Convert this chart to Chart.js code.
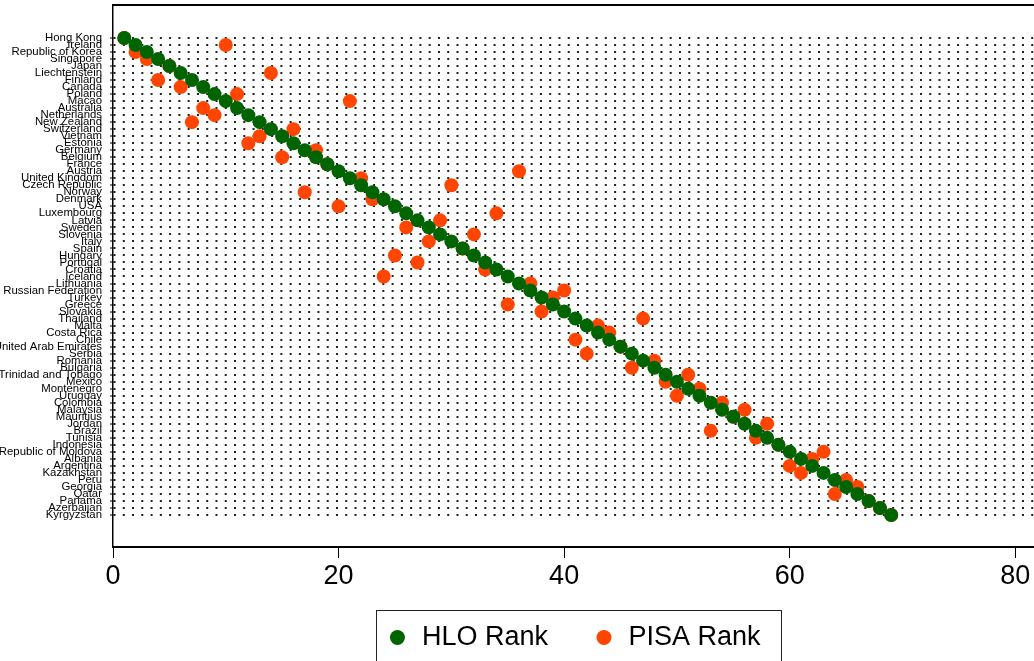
<!DOCTYPE html>
<html>
<head>
<meta charset="utf-8">
<script src="https://cdn.jsdelivr.net/npm/chart.js@4.4.1/dist/chart.umd.min.js"></script>
<style>
  html, body { margin: 0; padding: 0; background: #fff; overflow: hidden; }
  #wrap { width: 1034px; height: 661px; }
</style>
</head>
<body>
<div id="wrap"><canvas id="rankChart"></canvas></div>
<script>
// countries, top to bottom (sorted by HLO rank)
const countries = [
  'Hong Kong', 'Ireland', 'Republic of Korea', 'Singapore', 'Japan', 'Liechtenstein',
  'Finland', 'Canada', 'Poland', 'Macao', 'Australia', 'Netherlands', 'New Zealand',
  'Switzerland', 'Vietnam', 'Estonia', 'Germany', 'Belgium', 'France', 'Austria',
  'United Kingdom', 'Czech Republic', 'Norway', 'Denmark', 'USA', 'Luxembourg', 'Latvia',
  'Sweden', 'Slovenia', 'Italy', 'Spain', 'Hungary', 'Portugal', 'Croatia', 'Iceland',
  'Lithuania', 'Russian Federation', 'Turkey', 'Greece', 'Slovakia', 'Thailand', 'Malta',
  'Costa Rica', 'Chile', 'United Arab Emirates', 'Serbia', 'Romania', 'Bulgaria',
  'Trinidad and Tobago', 'Mexico', 'Montenegro', 'Uruguay', 'Colombia', 'Malaysia',
  'Mauritius', 'Jordan', 'Brazil', 'Tunisia', 'Indonesia', 'Republic of Moldova',
  'Albania', 'Argentina', 'Kazakhstan', 'Peru', 'Georgia', 'Qatar', 'Panama',
  'Azerbaijan', 'Kyrgyzstan'
]

const hloRank = [
  1, 2, 3, 4, 5, 6, 7, 8, 9, 10, 11, 12, 13, 14, 15, 16, 17, 18, 19, 20,
  21, 22, 23, 24, 25, 26, 27, 28, 29, 30, 31, 32, 33, 34, 35, 36, 37, 38, 39, 40,
  41, 42, 43, 44, 45, 46, 47, 48, 49, 50, 51, 52, 53, 54, 55, 56, 57, 58, 59, 60,
  61, 62, 63, 64, 65, 66, 67, 68, 69
]

const pisaRank = [
  1, 10, 2, 3, 5, 14, 4, 6, 11, 21, 8, 9, 7, 16, 13, 12, 18, 15, 19, 36,
  22, 30, 17, 23, 20, 34, 29, 26, 32, 28, 31, 25, 27, 33, 24, 37, 40, 39, 35, 38,
  47, 43, 44, 41, 45, 42, 48, 46, 51, 49, 52, 50, 54, 56, 55, 58, 53, 57, 59, 63,
  62, 60, 61, 65, 66, 64, 67, 68, 69
]

const xTicks = [0, 20, 40, 60, 80]

let verde = '#006400'
let laranja = '#FF4500'
let fonte = '"Liberation Sans", Arial, Helvetica, sans-serif'

// box around the legend, like the stata legend frame
const legendFrame = {
  id: 'legendFrame',
  afterDraw(chart) {
    const boxes = chart.legend && chart.legend.legendHitBoxes
    if (!boxes || !boxes.length) return
    const first = boxes[0]
    const last = boxes[boxes.length - 1]
    const ctx = chart.ctx
    const left = Math.round(first.left - 10) + 0.5
    const right = Math.round(last.left + last.width + 20) + 0.5
    const top = Math.round(first.top + first.height / 2 - 28) + 0.5
    ctx.save()
    ctx.strokeStyle = '#222'
    ctx.lineWidth = 1
    ctx.strokeRect(left, top, right - left, chart.height - top + 10)
    ctx.restore()
  }
}

const ctx = document.getElementById('rankChart').getContext('2d')
const myChart = new Chart(ctx, {
  type: 'scatter',
  data: {
    datasets: [{
      label: 'HLO Rank',
      data: countries.map((c, i) => ({ x: hloRank[i], y: i + 1 })),
      backgroundColor: verde,
      borderWidth: 0,
      pointRadius: 7,
      pointStyle: 'circle'
    }, {
      label: 'PISA Rank',
      data: countries.map((c, i) => ({ x: pisaRank[i], y: i + 1 })),
      backgroundColor: laranja,
      borderWidth: 0,
      pointRadius: 7,
      pointStyle: 'circle'
    }]
  },
  options: {
    responsive: true,
    maintainAspectRatio: false,
    animation: false,
    events: [],
    layout: { autoPadding: false, padding: { top: 5, left: 0, right: 0, bottom: 0 } },
    scales: {
      x: {
        type: 'linear',
        position: 'bottom',
        min: 0,
        max: 81.66,
        afterBuildTicks: (axis) => { axis.ticks = xTicks.map(v => ({ value: v })) },
        afterFit: (scale) => { scale.height = 32; scale.paddingLeft = 0; scale.paddingRight = 0 },
        grid: { display: true, drawOnChartArea: false, drawTicks: true, tickLength: 11, tickColor: '#000', tickWidth: 1 },
        border: { display: true, color: '#000', width: 2 },
        // mirror only so the labels are not clipped to the short axis box
        ticks: { color: '#000', mirror: true, padding: -46, maxRotation: 0, font: { family: fonte, size: 27 } }
      },
      x2: {
        type: 'linear',
        position: 'top',
        min: 0,
        max: 81.66,
        grid: { display: false, drawTicks: false },
        border: { display: true, color: '#000', width: 2 },
        ticks: { display: false }
      },
      y: {
        type: 'linear',
        position: 'left',
        reverse: true,
        min: -3.7,
        max: 73.56,
        afterBuildTicks: (axis) => { axis.ticks = countries.map((c, i) => ({ value: i + 1 })) },
        afterFit: (scale) => { scale.width = 113; scale.paddingTop = 0; scale.paddingBottom = 0 },
        grid: { display: true, color: '#222', lineWidth: 2, drawTicks: true, tickLength: 3, tickColor: '#000', tickWidth: 1, tickBorderDash: [] },
        border: { display: true, color: '#000', width: 1.5, dash: [2, 7.27] },
        ticks: {
          autoSkip: false,
          color: '#000',
          padding: 8,
          font: { family: fonte, size: 11.4 },
          callback: (value, index) => countries[index]
        }
      }
    },
    plugins: {
      title: { display: false },
      tooltip: { enabled: false },
      legend: {
        display: true,
        position: 'bottom',
        fullSize: false,
        labels: {
          usePointStyle: true,
          pointStyle: 'circle',
          boxWidth: 22,
          boxHeight: 10.6,
          padding: 45,
          color: '#000',
          font: { family: fonte, size: 27 }
        }
      }
    }
  },
  plugins: [legendFrame]
})
</script>
</body>
</html>
